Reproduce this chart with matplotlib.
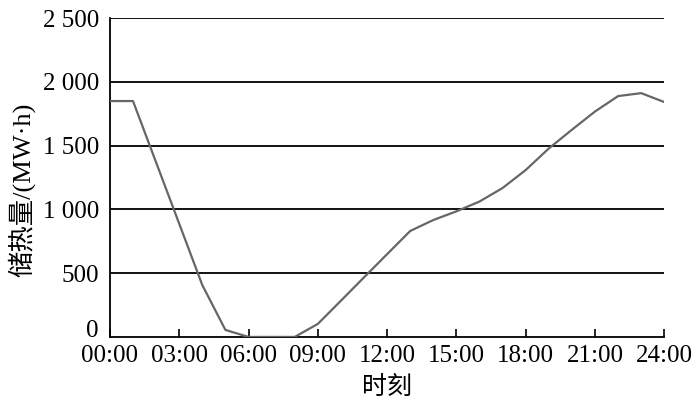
import matplotlib.pyplot as plt
import matplotlib.transforms as mtransforms
import numpy as np

plt.rcParams["font.family"] = ["Liberation Serif", "Noto Sans CJK SC"]
plt.rcParams["axes.unicode_minus"] = False

# hourly heat storage (MW·h)
hours = np.arange(0, 25)
storage = [1850, 1850, 1369, 888, 407, 55, 0, 0, 0, 102, 284, 467, 649, 831,
           917, 985, 1062, 1168, 1309, 1478, 1625, 1768, 1889, 1912, 1842]

xticks = np.arange(0, 25, 3)
xtick_labels = [f"{h:02d}:00" for h in xticks]
yticks = [0, 500, 1000, 1500, 2000, 2500]
ytick_labels = ["0", "500", "1 000", "1 500", "2 000", "2 500"]

fig = plt.figure(figsize=(7, 4.04), dpi=100)
ax = fig.add_axes([0.157, 0.166, 0.792, 0.789])

# horizontal grid lines
for y in yticks[1:]:
    ax.axhline(y, color="black", linewidth=1.3, zorder=1)

ax.plot(hours, storage, color="#666666", linewidth=1.6, zorder=3)

ax.set_xlim(0, 24)
ax.set_ylim(0, 2500)
ax.set_xticks(xticks)
ax.set_xticklabels(xtick_labels, fontsize=18)
ax.set_yticks(yticks)
ax.set_yticklabels(ytick_labels, fontsize=18)
ax.tick_params(axis="x", direction="in", length=6, width=1.2, pad=6)
ax.tick_params(axis="y", length=0, pad=8)

# keep the "0" label just above "00:00"
zero_lbl = ax.get_yticklabels()[0]
zero_lbl.set_verticalalignment("bottom")
zero_lbl.set_transform(zero_lbl.get_transform()
                       + mtransforms.ScaledTranslation(0, -4 / 72, fig.dpi_scale_trans))

for side in ["top", "right"]:
    ax.spines[side].set_visible(False)
for side in ["left", "bottom"]:
    ax.spines[side].set_linewidth(1.3)

ax.set_xlabel("时刻", fontsize=18, labelpad=6)
ax.set_ylabel("储热量/(MW·h)", fontsize=19, labelpad=4)
ax.yaxis.set_label_coords(-0.135, 0.46)

plt.savefig("out.png", dpi=100)
